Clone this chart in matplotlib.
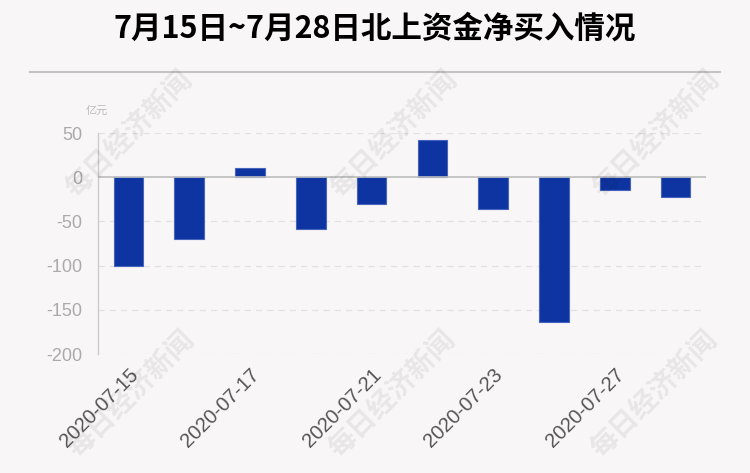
import matplotlib
matplotlib.use("Agg")
import matplotlib.pyplot as plt
from matplotlib.lines import Line2D

plt.rcParams['font.family'] = ['Liberation Sans', 'Noto Sans CJK SC', 'DejaVu Sans']

dates = ["2020-07-15", "2020-07-16", "2020-07-17", "2020-07-20", "2020-07-21",
         "2020-07-22", "2020-07-23", "2020-07-24", "2020-07-27", "2020-07-28"]
values = [-100.0, -69.5, 10.5, -59.0, -30.0, 42.0, -36.5, -164.0, -14.8, -22.4]
yticks = [50, 0, -50, -100, -150, -200]
title = "7月15日~7月28日北上资金净买入情况"
unit = "亿元"
watermark = "每日经济新闻"

bg = "#f9f6f7"
fig = plt.figure(figsize=(7.5, 4.73), dpi=100, facecolor=bg)
ax = fig.add_axes([98/750, 1-354/473, (706-98)/750, (354-133)/473])
ax.set_facecolor(bg)

x = list(range(len(dates)))
ax.bar(x, values, width=0.49, color="#0d34a0", edgecolor="#4564bd", linewidth=0.8, zorder=3)

ax.set_xlim(-0.5, len(dates)-0.5)
ax.set_ylim(-200, 50)
ax.set_yticks(yticks)
ax.set_yticklabels([str(v) for v in yticks], fontsize=13, color="#aaaaaa")
for v in yticks:
    if v == 0:
        ax.axhline(0, color="#bdbdbd", lw=1.2, zorder=4)
    else:
        ax.axhline(v, color="#e3e0e1", lw=0.9, ls=(0, (5, 4)), zorder=1)

shown = x[::2]
ax.set_xticks(shown)
ax.set_xticklabels([dates[i] for i in shown], rotation=45, ha="right",
                   rotation_mode="anchor", fontsize=14.5, color="#555555")
ax.tick_params(axis="both", length=0)
ax.tick_params(axis="x", pad=8)
ax.tick_params(axis="y", pad=11)
for s in ["top", "right", "bottom"]:
    ax.spines[s].set_visible(False)
ax.spines["left"].set_color("#cccccc")
ax.spines["left"].set_linewidth(1.0)

fig.text(0.5, 1-29/473, title, ha="center", va="center", fontsize=22, fontweight="bold",
         color="#000000", family=["Noto Sans CJK SC"])
fig.add_artist(Line2D([30/750, 720/750], [1-72/473, 1-72/473], color="#c4c4c4", lw=1.5))
fig.text(97/750, 1-111/473, unit, ha="center", va="center", fontsize=8, color="#bbbbbb",
         family=["Noto Sans CJK SC"])

for cx, cy in [(130, 135), (395, 135), (657, 135), (132, 395), (393, 395), (655, 395)]:
    fig.text(cx/750, 1-cy/473, watermark, ha="center", va="center", rotation=45,
             fontsize=20, fontweight="bold", color="#000000", alpha=0.065,
             family=["Noto Sans CJK SC"], zorder=10)

fig.savefig("out.png", dpi=100, facecolor=bg)
